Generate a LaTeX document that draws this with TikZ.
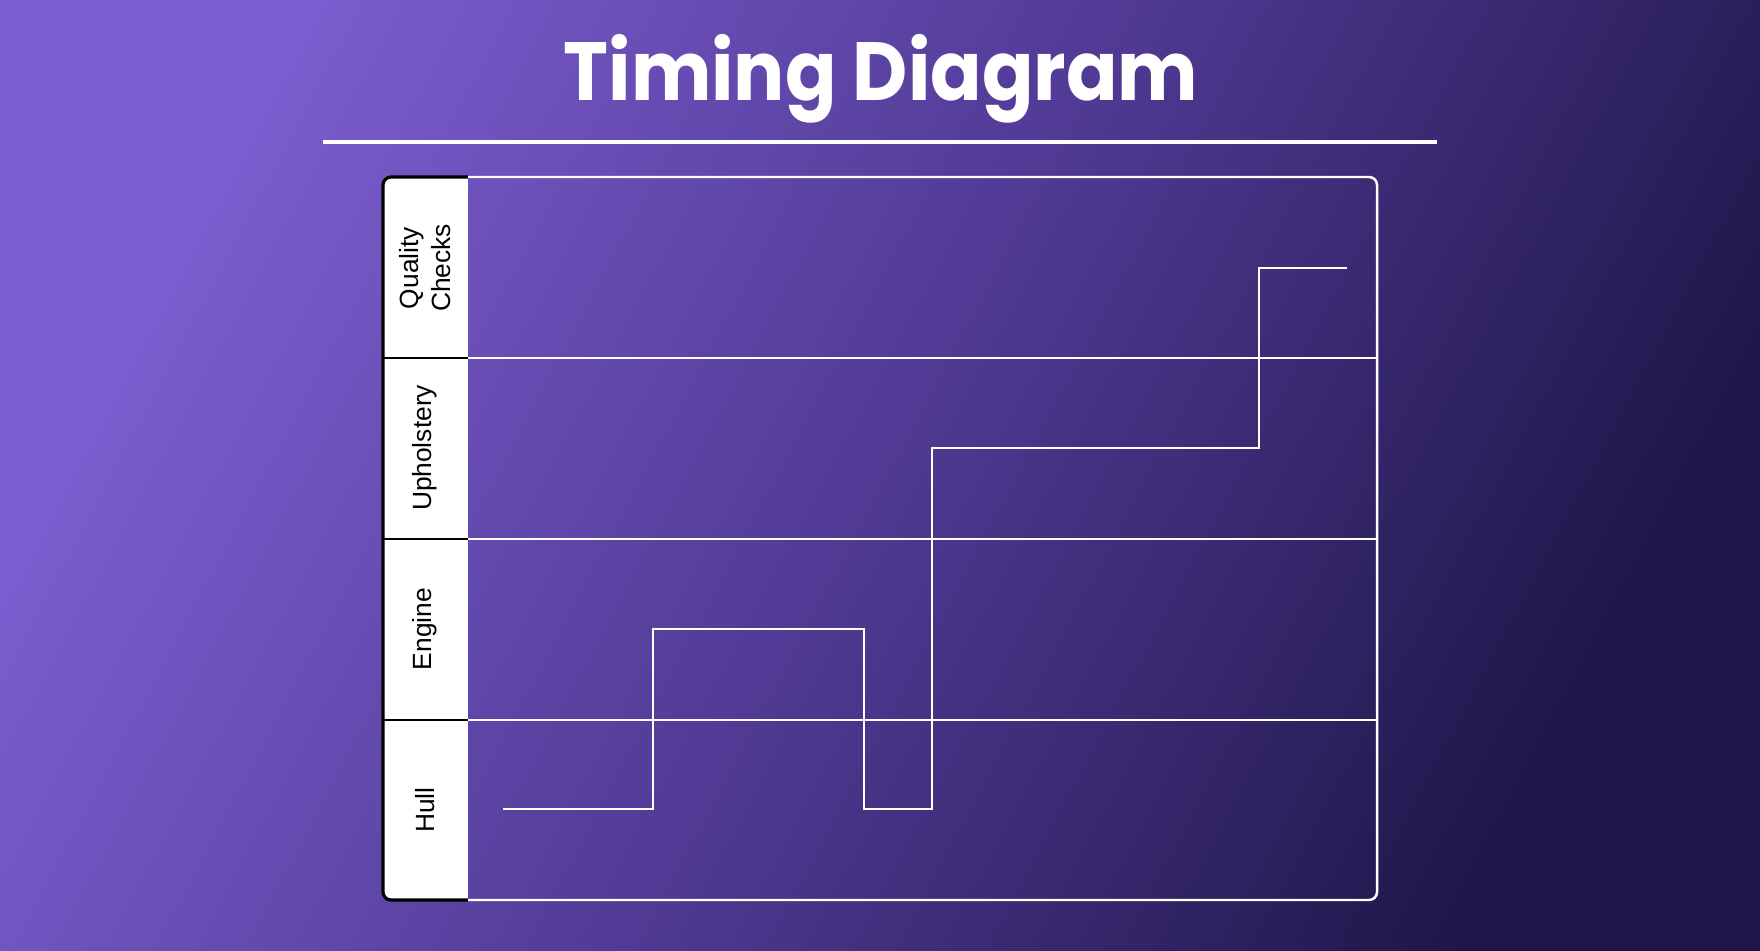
\documentclass[tikz,border=0pt]{standalone}
\usepackage{fontspec}
\setmainfont{Liberation Sans}
\newfontfamily\titlefont{Poppins}
\usetikzlibrary{positioning}

\definecolor{bglight}{RGB}{124,94,208}
\definecolor{bgmid}{RGB}{80,58,148}
\definecolor{bgdark}{RGB}{30,22,72}

\tikzset{
  lane/.style={rotate=90, font=\fontsize{15}{18}\selectfont, text=black, align=center},
  gridline/.style={white, line width=1.4pt},
}

\begin{document}
\begin{tikzpicture}[x=0.02cm, y=-0.02cm]
\useasboundingbox (0,0) rectangle (1760,950);
\shade[top color=bglight, bottom color=bgdark, middle color=bgmid, shading angle=62] (0,0) rectangle (1760,950);

\node[font=\titlefont\bfseries\fontsize{47}{50}\selectfont, text=white, anchor=base, xscale=0.92] (title) at (881,100) {Timing Diagram};
\draw[white, line width=2pt] (323,142) -- (1437,142);

\fill[white, rounded corners=0.16cm] (383,177) rectangle (440,900);
\fill[white] (420,177) rectangle (468,900);
\draw[black, line width=1.8pt, rounded corners=0.16cm] (468,177) -- (383,177) -- (383,900) -- (468,900);
\draw[black, line width=1.5pt] (383,358) -- (468,358);
\draw[black, line width=1.5pt] (383,539) -- (468,539);
\draw[black, line width=1.5pt] (383,720) -- (468,720);

\draw[gridline, rounded corners=0.16cm] (468,177) -- (1377,177) -- (1377,900) -- (468,900);
\draw[gridline] (468,358) -- (1377,358);
\draw[gridline] (468,539) -- (1377,539);
\draw[gridline] (468,720) -- (1377,720);

\node[lane] (quality) at (425,268) {Quality\\Checks};
\node[lane] (upholstery) at (425,448) {Upholstery};
\node[lane] (engine) at (425,629) {Engine};
\node[lane] (hull) at (425,810) {Hull};

\draw[gridline] (503,809) -- (653,809) -- (653,629) -- (864,629) -- (864,809) -- (932,809)
  -- (932,448) -- (1259,448) -- (1259,268) -- (1347,268);
\end{tikzpicture}
\end{document}
